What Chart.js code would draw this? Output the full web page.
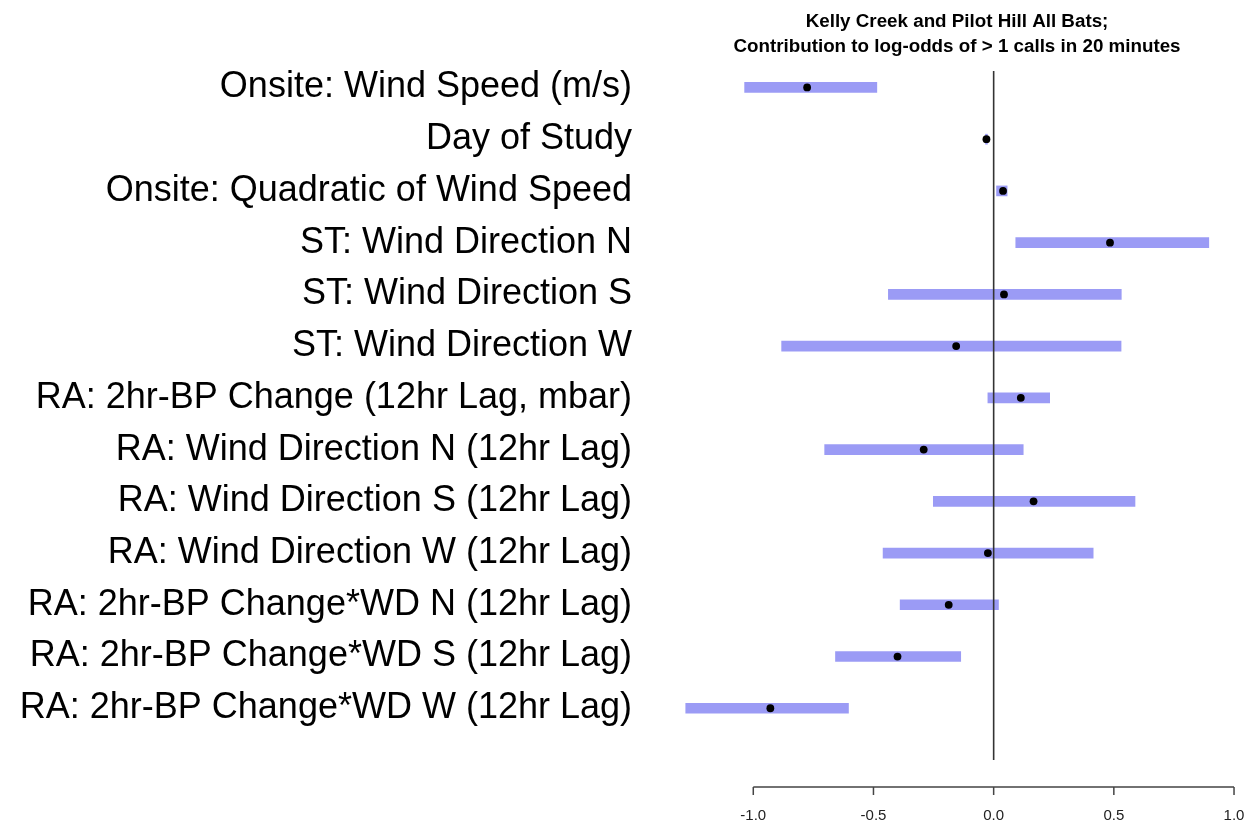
<!DOCTYPE html>
<html lang="en">
<head>
  <meta charset="UTF-8">
  <title>Kelly Creek and Pilot Hill All Bats</title>
  <script src="https://cdn.jsdelivr.net/npm/chart.js"></script>
  <style>
    body {
      margin: 0;
      background-color: #ffffff;
    }
    #chartContainer {
      width: 1248px;
      height: 825px;
    }
  </style>
</head>
<body>
  <div id="chartContainer">
    <canvas id="chart"></canvas>
  </div>

  <script>
    const labels = [
      "Onsite: Wind Speed (m/s)",
      "Day of Study",
      "Onsite: Quadratic of Wind Speed",
      "ST: Wind Direction N",
      "ST: Wind Direction S",
      "ST: Wind Direction W",
      "RA: 2hr-BP Change (12hr Lag, mbar)",
      "RA: Wind Direction N (12hr Lag)",
      "RA: Wind Direction S (12hr Lag)",
      "RA: Wind Direction W (12hr Lag)",
      "RA: 2hr-BP Change*WD N (12hr Lag)",
      "RA: 2hr-BP Change*WD S (12hr Lag)",
      "RA: 2hr-BP Change*WD W (12hr Lag)"
    ];
    const lower = [-1.036, -0.034, 0.012, 0.092, -0.438, -0.882, -0.024, -0.703, -0.251, -0.460, -0.389, -0.658, -1.281];
    const upper = [-0.486, -0.026, 0.056, 0.895, 0.531, 0.530, 0.233, 0.123, 0.588, 0.414, 0.020, -0.137, -0.604];
    const estimate = [-0.776, -0.030, 0.039, 0.484, 0.043, -0.156, 0.113, -0.291, 0.166, -0.024, -0.187, -0.400, -0.929];
    const xTicks = [-1.0, -0.5, 0.0, 0.5, 1.0];
    const titleLines = ["Kelly Creek and Pilot Hill All Bats;", "Contribution to log-odds of > 1 calls in 20 minutes"];

    const rows = labels.map((l, i) => i + 1);

    // zero line (over the bars, under the dots) and the R-style x axis
    const refLines = {
      id: 'refLines',
      afterDatasetDraw(chart, args) {
        if (args.index !== 0) return;
        const ctx = chart.ctx;
        const x = chart.scales.x;
        const area = chart.chartArea;
        ctx.save();
        ctx.strokeStyle = '#333333';
        ctx.lineWidth = 1.6;
        ctx.beginPath();
        ctx.moveTo(x.getPixelForValue(0), area.top);
        ctx.lineTo(x.getPixelForValue(0), area.bottom);
        ctx.stroke();
        ctx.restore();
      },
      afterDraw(chart) {
        const ctx = chart.ctx;
        const x = chart.scales.x;
        const y0 = chart.chartArea.bottom + 27;
        ctx.save();
        ctx.strokeStyle = '#444444';
        ctx.lineWidth = 1.5;
        ctx.beginPath();
        ctx.moveTo(x.getPixelForValue(xTicks[0]), y0);
        ctx.lineTo(x.getPixelForValue(xTicks[xTicks.length - 1]), y0);
        xTicks.forEach(v => {
          ctx.moveTo(x.getPixelForValue(v), y0);
          ctx.lineTo(x.getPixelForValue(v), y0 + 8);
        });
        ctx.stroke();
        ctx.restore();
      }
    };

    // invisible tick marks keep the labels away from the plot without
    // adding side padding to the layout
    const hiddenGrid = len => ({
      display: true,
      drawOnChartArea: false,
      drawTicks: true,
      tickLength: len,
      color: 'rgba(0,0,0,0)',
      offset: false
    });

    new Chart(document.getElementById('chart').getContext('2d'), {
      type: 'bar',
      data: {
        datasets: [{
          type: 'bar',
          indexAxis: 'y',
          data: rows.map((r, i) => ({ x: [lower[i], upper[i]], y: r })),
          backgroundColor: '#9b9bf5',
          borderWidth: 0,
          barThickness: 10,
          order: 1
        }, {
          type: 'scatter',
          data: rows.map((r, i) => ({ x: estimate[i], y: r })),
          backgroundColor: '#000000',
          borderWidth: 0,
          pointRadius: 3.9,
          order: 0
        }]
      },
      options: {
        responsive: true,
        maintainAspectRatio: false,
        animation: false,
        layout: { padding: { left: 0, right: 7, top: 0, bottom: 0 } },
        plugins: {
          legend: { display: false },
          tooltip: { enabled: false },
          title: {
            display: true,
            fullSize: false,
            text: titleLines,
            color: '#000000',
            font: { family: "'Liberation Sans', Arial, sans-serif", size: 18.8, weight: 'bold', lineHeight: 1.3 },
            padding: { top: 10, bottom: 12 }
          }
        },
        scales: {
          x: {
            type: 'linear',
            offset: false,
            min: -1.334,
            max: 1.029,
            grid: hiddenGrid(47),
            border: { display: false },
            afterBuildTicks: s => { s.ticks = xTicks.map(v => ({ value: v })); },
            afterFit: s => { s.height = 65; },
            ticks: {
              padding: 0,
              color: '#222222',
              font: { family: "'Liberation Sans', Arial, sans-serif", size: 15 },
              callback: v => v.toFixed(1)
            }
          },
          y: {
            type: 'linear',
            offset: false,
            reverse: true,
            min: 0.68,
            max: 14.0,
            grid: hiddenGrid(41),
            border: { display: false },
            afterBuildTicks: s => { s.ticks = rows.map(v => ({ value: v })); },
            afterFit: s => { s.width = 673; },
            ticks: {
              padding: 0,
              color: '#000000',
              font: { family: "'Liberation Sans', Arial, sans-serif", size: 36 },
              callback: v => labels[v - 1]
            }
          }
        }
      },
      plugins: [refLines]
    });
  </script>
</body>
</html>
